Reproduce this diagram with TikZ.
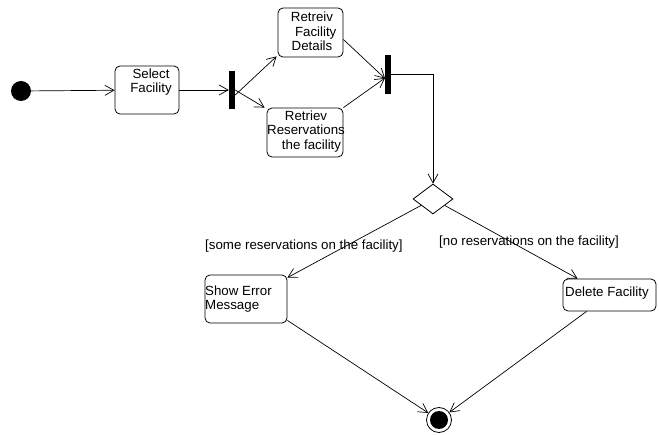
\documentclass[tikz,border=0pt]{standalone}
\usepackage{fontspec}
\setmainfont{Liberation Sans}
\usetikzlibrary{arrows.meta,shapes.geometric,calc}
\begin{document}
\begin{tikzpicture}[x=1pt,y=-1pt,
  act/.style={draw,rounded corners=5pt,line width=0.8pt,inner sep=0pt},
  lbl/.style={font=\fontsize{13.3}{14.5}\selectfont,inner sep=0pt},
  bar/.style={fill=black,draw=none,inner sep=0pt},
  flow/.style={line width=0.7pt,-{Straight Barb[length=9pt,width=10pt]}}]
\useasboundingbox (0,0) rectangle (659,435);
% nodes
\node[circle,fill=black,minimum size=20pt,inner sep=0pt] (init) at (21,91) {};
\node[act,minimum width=64pt,minimum height=48pt] (sel) at (147,90) {};
\node[lbl,align=center] (selt) at (151,82) {Select\\Facility};
\node[bar,minimum width=6pt,minimum height=38pt] (fork) at (232,90) {};
\node[act,minimum width=65pt,minimum height=49pt] (det) at (310.5,32.5) {};
\node[lbl,align=center] (dett) at (312,31.5) {Retreiv\\\ \ Facility\\Details};
\node[act,minimum width=76pt,minimum height=49pt] (res) at (305,132.5) {};
\node[lbl,align=center] (rest) at (306,131.5) {Retriev\\Reservations\\\ \ \ the facility};
\node[bar,minimum width=5.5pt,minimum height=39pt] (join) at (388,74.5) {};
\node[draw,diamond,line width=0.8pt,minimum width=40pt,minimum height=30pt,inner sep=0pt] (dec) at (433,199) {};
\node[act,minimum width=82pt,minimum height=48pt] (err) at (246,299) {};
\node[lbl,align=left,anchor=west] (errt) at (205,299) {Show Error\\Message};
\node[act,minimum width=93pt,minimum height=32pt] (del) at (609.5,295) {};
\node[lbl,anchor=west] (delt) at (565,293) {Delete Facility};
\node[circle,draw,line width=0.8pt,minimum size=25pt,inner sep=0pt] (fin) at (439,420) {};
\fill (fin.center) circle (9pt);
% guards
\node[lbl,anchor=west] (g1) at (205,246) {[some reservations on the facility]};
\node[lbl,anchor=west] (g2) at (439,242) {[no reservations on the facility]};
% connectors
\draw[flow] (init) -- (sel);
\draw[flow] (sel.east) -- (fork.west);
\draw[flow] ([yshift=-5pt]fork.east) -- ([xshift=-1pt,yshift=1pt]det.south west);
\draw[flow] (fork.east) -- ([xshift=-2pt]res.north west);
\draw[flow] ([yshift=-7pt]det.east) -- ([yshift=-4pt]join.west);
\draw[flow] (res.north east) -- ([yshift=-3.5pt]join.west);
\draw[flow] (join.east) -| (dec.north);
\draw[flow] (dec) -- ([yshift=-3pt]err.north east);
\draw[flow] (dec) -- ([xshift=15pt]del.north west);
\draw[flow] ([yshift=3pt]err.south east) -- (fin);
\draw[flow] ([xshift=24pt]del.south west) -- (fin);
\end{tikzpicture}
\end{document}
